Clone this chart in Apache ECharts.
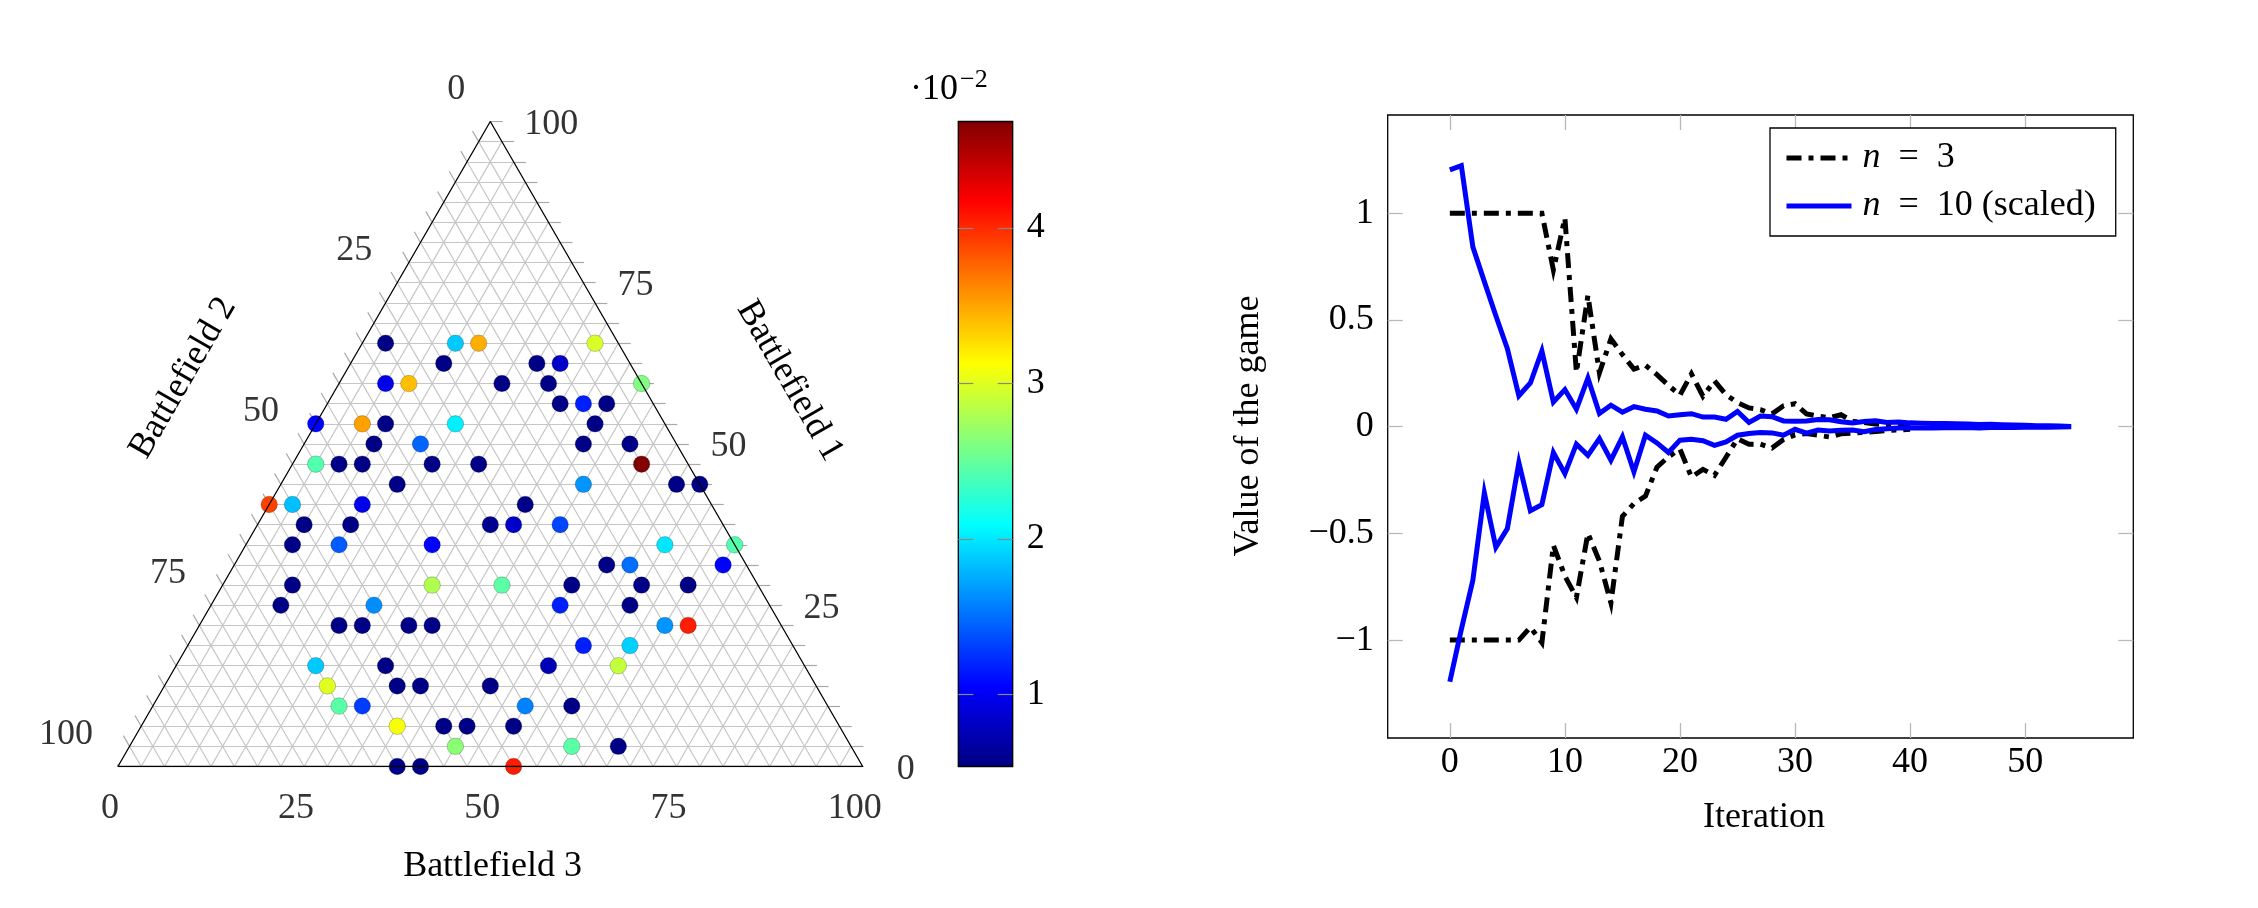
<!DOCTYPE html>
<html><head><meta charset="utf-8">
<script src="https://cdn.jsdelivr.net/npm/echarts@6/dist/echarts.min.js"></script>
<style>html,body{margin:0;padding:0;background:#fff}#c{width:2258px;height:908px}</style>
</head><body><div id="c"></div>
<script>
const FONT = '"Liberation Serif", "DejaVu Serif", serif';
const FS = 36;

// ---------- ternary data (troops out of TOTAL; battlefield 2 = TOTAL - bf1 - bf3) ----------
const TOTAL = 32;
const bf1 = [21,21,21,21, 20,20,20, 19,19,19,19,19, 18,18,18, 17,17,17,17,17, 16,16,16,16,
  15,15,15,15,15,15, 14,14,14,14, 13,13,13,13, 12,12,12,12,12, 11,11,11,11,11, 10,10,10,
  9,9,9,9,9,9, 8,8,8,8, 7,7,7,7,7,7, 6,6, 5,5,5,5, 4,4,4,4, 3,3,3,3, 2,2,2,2, 1,1,1, 0,0,0];
const bf3 = [1,4,5,10, 4,8,9, 2,3,7,9,13, 10,11,12, 0,2,3,6,12, 3,5,12,14,
  1,2,3,6,8,15, 5,13,17,18, 0,1,4,11, 2,4,10,11,13, 2,4,8,18,21, 16,17,21,
  3,9,12,15,18,20, 3,7,15,18, 6,7,9,10,20,21, 17,19, 6,9,16,19, 7,10,11,14, 8,9,16,18, 11,13,14,16, 14,19,21, 12,13,17];
const prob = [0.56,1.87,3.46,2.97, 0.56,0.56,0.83, 0.97,3.39,0.56,0.56,2.61, 0.56,1.18,0.56,
  1.05,3.51,0.56,2.03,0.56, 0.56,1.46,0.56,0.56, 2.42,0.56,0.56,0.56,0.56,4.68,
  0.56,1.66,0.56,0.56, 3.9,1.83,0.97,0.56, 0.56,0.56,0.6,0.83,1.34, 0.56,1.42,1.05,1.99,2.42,
  0.56,1.5,1.05, 0.56,2.8,2.46,0.56,0.56,0.56, 0.56,1.63,1.18,0.56,
  0.56,0.56,0.56,0.56,1.66,4.05, 1.18,1.9, 1.87,0.56,0.75,2.88, 3.0,0.56,0.56,0.56,
  2.45,1.3,1.58,0.56, 3.09,0.56,0.56,0.56, 2.65,2.46,0.56, 0.56,0.56,4.05];
const ternaryTicks = [0, 25, 50, 75, 100];
const colorbarTicks = [1, 2, 3, 4];
const colorMin = 0.537, colorMax = 4.683;
const jet = ['#000080','#0000ff','#0080ff','#00ffff','#80ff80','#ffff00','#ff8000','#ff0000','#800000'];

// ---------- convergence data ----------
const n3Upper = [1,1,1,1,1,1,1,1,1.0,0.735,0.978,0.255,0.615,0.252,0.412,0.338,0.27,0.288,0.244,0.194,
  0.148,0.248,0.143,0.215,0.15,0.113,0.088,0.08,0.06,0.098,0.108,0.06,0.05,0.042,0.056,0.025,0.02,0.013,0.008,0.003,-0.004];
const n3Lower = [-1,-1,-1,-1,-1,-1,-1,-0.94,-1.012,-0.556,-0.7,-0.8,-0.5,-0.63,-0.826,-0.42,-0.36,-0.325,-0.19,-0.141,
  -0.105,-0.236,-0.2,-0.228,-0.143,-0.057,-0.082,-0.082,-0.1,-0.06,-0.038,-0.032,-0.04,-0.048,-0.033,-0.03,-0.027,-0.023,-0.018,-0.015,-0.012];
const n10Upper = [1.204,1.224,0.843,0.68,0.52,0.366,0.145,0.205,0.355,0.116,0.174,0.082,0.228,0.062,0.101,0.068,0.094,0.082,0.074,0.05,
  0.056,0.061,0.045,0.045,0.035,0.072,0.02,0.05,0.047,0.027,0.026,0.027,0.034,0.033,0.023,0.018,0.024,0.028,0.02,0.022,
  0.018,0.016,0.015,0.015,0.014,0.013,0.01,0.011,0.009,0.008,0.007,0.005,0.004,0.003,0.001];
const n10Lower = [-1.195,-0.95,-0.72,-0.31,-0.565,-0.477,-0.168,-0.394,-0.365,-0.121,-0.22,-0.082,-0.134,-0.056,-0.157,-0.048,-0.212,-0.04,-0.076,-0.121,
  -0.063,-0.059,-0.066,-0.087,-0.071,-0.04,-0.032,-0.027,-0.029,-0.04,-0.012,-0.03,-0.015,-0.02,-0.017,-0.016,-0.023,-0.013,-0.01,-0.006,
  -0.005,-0.006,-0.006,-0.005,-0.005,-0.004,-0.006,-0.004,-0.003,-0.004,-0.002,-0.003,-0.002,-0.001,0];
const xTicks = [0, 10, 20, 30, 40, 50];
const yTicks = [-1, -0.5, 0, 0.5, 1];

// ---------- build ternary geometry ----------
const H = Math.sqrt(3) / 2;
const toXY = (b1, b3) => [b3 + b1 / 2, b1 * H];
const gridSegs = [];
for (let i = 1; i < TOTAL; i++) {
  gridSegs.push({coords: [toXY(i, 0), toXY(i, TOTAL - i)]});
  gridSegs.push({coords: [toXY(0, i), toXY(TOTAL - i, i)]});
  gridSegs.push({coords: [toXY(0, TOTAL - i), toXY(TOTAL - i, 0)]});
}
const TL = 0.53;
const tickSegs = [];
for (let i = 0; i <= TOTAL; i++) {
  const pb = toXY(0, i); tickSegs.push({coords: [pb, [pb[0] - 0.5 * TL, pb[1] - H * TL]]});
  const pl = toXY(TOTAL - i, 0); tickSegs.push({coords: [pl, [pl[0] - 0.5 * TL, pl[1] + H * TL]]});
  const pr = toXY(i, TOTAL - i); tickSegs.push({coords: [pr, [pr[0] + TL, pr[1]]]});
}
const pts = bf1.map((b, i) => [...toXY(b, bf3[i]), prob[i]]);
const frac = t => t / 100 * TOTAL;
const bottomLbl = ternaryTicks.map(t => [...toXY(0, frac(t)), t]);
const leftLbl = ternaryTicks.map(t => [...toXY(TOTAL - frac(t), 0), t]);
const rightLbl = ternaryTicks.map(t => [...toXY(frac(t), TOTAL - frac(t)), t]);

const txt = {fontFamily: FONT, fontSize: FS, color: '#000'};
const lblSeries = (data, align, offset) => ({
  type: 'scatter', xAxisIndex: 0, yAxisIndex: 0, data, symbolSize: 1, silent: true,
  itemStyle: {color: 'rgba(0,0,0,0)'},
  label: {show: true, position: 'inside', align, verticalAlign: 'middle', offset, ...txt,
    formatter: p => String(p.value[2])}
});
const minus = v => String(v).replace('-', '\u2212');
const tickGray = {color: '#b8b8b8', width: 1.3};
const LW = 5;

const chart = echarts.init(document.getElementById('c'));
chart.setOption({
  animation: false,
  backgroundColor: '#fff',
  grid: [
    {left: 117.9, top: 121.5, width: 744.8, height: 645},
    {left: 1387.7, top: 115, width: 745.6, height: 623, show: true, borderColor: '#000', borderWidth: 1.3, backgroundColor: 'transparent'},
    {left: 958.3, top: 121.5, width: 54.4, height: 645}
  ],
  xAxis: [
    {gridIndex: 0, type: 'value', min: 0, max: TOTAL, show: false},
    {gridIndex: 1, type: 'value', min: -5.4, max: 59.4, position: 'bottom',
      axisLine: {show: false, onZero: false}, splitLine: {show: false},
      axisTick: {show: true, inside: true, length: 15, lineStyle: tickGray, customValues: xTicks},
      axisLabel: {...txt, margin: 7, customValues: xTicks}},
    {gridIndex: 1, type: 'value', min: -5.4, max: 59.4, position: 'top',
      axisLine: {show: false, onZero: false}, splitLine: {show: false},
      axisTick: {show: true, inside: true, length: 15, lineStyle: tickGray, customValues: xTicks},
      axisLabel: {show: false}},
    {gridIndex: 2, type: 'value', min: 0, max: 1, show: false}
  ],
  yAxis: [
    {gridIndex: 0, type: 'value', min: 0, max: TOTAL * H, show: false},
    {gridIndex: 1, type: 'value', min: -1.459, max: 1.461, position: 'left',
      axisLine: {show: false, onZero: false}, splitLine: {show: false},
      axisTick: {show: true, inside: true, length: 15, lineStyle: tickGray, customValues: yTicks},
      axisLabel: {...txt, margin: 14, customValues: yTicks, formatter: minus}},
    {gridIndex: 1, type: 'value', min: -1.459, max: 1.461, position: 'right',
      axisLine: {show: false, onZero: false}, splitLine: {show: false},
      axisTick: {show: true, inside: true, length: 15, lineStyle: tickGray, customValues: yTicks},
      axisLabel: {show: false}},
    {gridIndex: 2, type: 'value', min: colorMin, max: colorMax, position: 'left', z: 5,
      axisLine: {show: false, onZero: false}, splitLine: {show: false},
      axisTick: {show: true, inside: true, length: 15, lineStyle: {color: '#888', width: 1.2}, customValues: colorbarTicks},
      axisLabel: {show: false}},
    {gridIndex: 2, type: 'value', min: colorMin, max: colorMax, position: 'right', z: 5,
      axisLine: {show: false, onZero: false}, splitLine: {show: false},
      axisTick: {show: true, inside: true, length: 15, lineStyle: {color: '#888', width: 1.2}, customValues: colorbarTicks},
      axisLabel: {...txt, margin: 14, customValues: colorbarTicks}}
  ],
  visualMap: {type: 'continuous', show: false, min: colorMin, max: colorMax, dimension: 2, seriesIndex: 3,
    inRange: {color: jet}},
  legend: {
    data: ['n = 3', 'n = 10 (scaled)'], orient: 'vertical', left: 1770, top: 128,
    itemWidth: 65, itemHeight: 14, itemGap: 8, padding: [10, 20, 10, 14],
    borderColor: '#000', borderWidth: 1.3, backgroundColor: '#fff', selectedMode: false,
    itemStyle: {opacity: 0},
    lineStyle: {width: LW},
    textStyle: {...txt, lineHeight: 40, padding: [0, 0, 0, 6],
      rich: {i: {fontFamily: FONT, fontSize: FS, fontStyle: 'italic', lineHeight: 40}}},
    formatter: name => name.replace(/^n/, '{i|n}').replace(' = ', '\u2002=\u2002')
  },
  graphic: [
    {type: 'text', x: 492.6, y: 867, style: {text: 'Battlefield 3', fontFamily: FONT, fontSize: FS, fill: '#000', align: 'center', verticalAlign: 'middle'}},
    {type: 'text', x: 183, y: 378, rotation: Math.PI / 3, style: {text: 'Battlefield 2', fontFamily: FONT, fontSize: FS, fill: '#000', align: 'center', verticalAlign: 'middle'}},
    {type: 'text', x: 789.6, y: 381, rotation: -Math.PI / 3, style: {text: 'Battlefield 1', fontFamily: FONT, fontSize: FS, fill: '#000', align: 'center', verticalAlign: 'middle'}},
    {type: 'text', x: 958, y: 90, style: {text: '\u00b710', fontFamily: FONT, fontSize: FS, fill: '#000', align: 'right', verticalAlign: 'middle'}},
    {type: 'text', x: 960, y: 80, style: {text: '\u22122', fontFamily: FONT, fontSize: 26, fill: '#000', align: 'left', verticalAlign: 'middle'}},
    {type: 'text', x: 1249, y: 426, rotation: Math.PI / 2, style: {text: 'Value of the game', fontFamily: FONT, fontSize: FS, fill: '#000', align: 'center', verticalAlign: 'middle'}},
    {type: 'text', x: 1764, y: 818, style: {text: 'Iteration', fontFamily: FONT, fontSize: FS, fill: '#000', align: 'center', verticalAlign: 'middle'}}
  ],
  series: [
    {type: 'lines', coordinateSystem: 'cartesian2d', xAxisIndex: 0, yAxisIndex: 0, silent: true,
      data: gridSegs, lineStyle: {color: '#c6c6c6', width: 1.2, opacity: 1}},
    {type: 'lines', coordinateSystem: 'cartesian2d', xAxisIndex: 0, yAxisIndex: 0, silent: true,
      data: tickSegs, lineStyle: {color: '#a8a8a8', width: 1.2, opacity: 1}},
    {type: 'line', xAxisIndex: 0, yAxisIndex: 0, silent: true, symbol: 'none',
      data: [toXY(0, 0), toXY(0, TOTAL), toXY(TOTAL, 0), toXY(0, 0)],
      lineStyle: {color: '#000', width: 1.3}},
    {type: 'scatter', xAxisIndex: 0, yAxisIndex: 0, data: pts, symbolSize: 16.5, silent: true,
      itemStyle: {borderColor: 'rgba(0,0,0,0.22)', borderWidth: 1, opacity: 1}},
    lblSeries(bottomLbl, 'center', [-8, 42]),
    lblSeries(leftLbl, 'right', [-25, -32]),
    lblSeries(rightLbl, 'left', [34, 3]),
    {type: 'custom', xAxisIndex: 3, yAxisIndex: 3, silent: true, z: 1,
      data: [[0, 1, colorMin, colorMax]],
      renderItem: (params, api) => {
        const p0 = api.coord([api.value(0), api.value(2)]);
        const p1 = api.coord([api.value(1), api.value(3)]);
        return {type: 'rect', shape: {x: p0[0], y: p1[1], width: p1[0] - p0[0], height: p0[1] - p1[1]},
          style: {fill: new echarts.graphic.LinearGradient(0, 1, 0, 0,
            jet.map((c, i) => ({offset: i / (jet.length - 1), color: c}))), stroke: '#000', lineWidth: 1.3}};
      }},
    {name: 'n = 3', type: 'line', xAxisIndex: 1, yAxisIndex: 1, symbol: 'none', silent: true,
      itemStyle: {color: '#000'},
      data: n3Upper.map((v, i) => [i, v]),
      lineStyle: {color: '#000', width: LW, type: [15, 7, 5, 7], cap: 'butt', join: 'miter'}},
    {name: 'n = 3', type: 'line', xAxisIndex: 1, yAxisIndex: 1, symbol: 'none', silent: true,
      itemStyle: {color: '#000'},
      data: n3Lower.map((v, i) => [i, v]),
      lineStyle: {color: '#000', width: LW, type: [15, 7, 5, 7], cap: 'butt', join: 'miter'}},
    {name: 'n = 10 (scaled)', type: 'line', xAxisIndex: 1, yAxisIndex: 1, symbol: 'none', silent: true,
      itemStyle: {color: '#0000ff'},
      data: n10Upper.map((v, i) => [i, v]),
      lineStyle: {color: '#0000ff', width: LW, join: 'miter'}},
    {name: 'n = 10 (scaled)', type: 'line', xAxisIndex: 1, yAxisIndex: 1, symbol: 'none', silent: true,
      itemStyle: {color: '#0000ff'},
      data: n10Lower.map((v, i) => [i, v]),
      lineStyle: {color: '#0000ff', width: LW, join: 'miter'}}
  ]
});
</script></body></html>
